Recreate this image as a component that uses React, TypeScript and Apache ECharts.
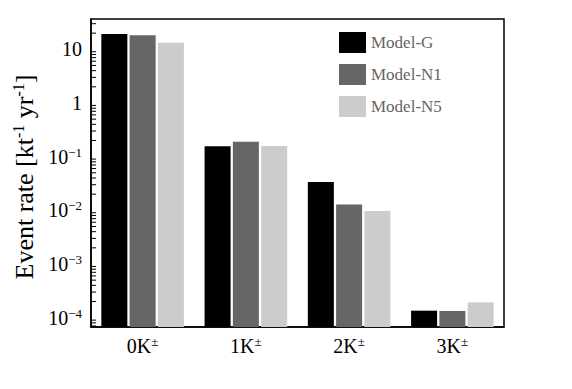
import React, { useEffect, useRef } from 'react';
import * as echarts from 'echarts';

const categories = ['0K', '1K', '2K', '3K'];
const seriesNames = ['Model-G', 'Model-N1', 'Model-N5'];
const modelG = [19.3, 0.156, 0.0337, 1.35e-4];
const modelN1 = [18.2, 0.19, 0.0128, 1.33e-4];
const modelN5 = [13.3, 0.158, 0.0097, 1.93e-4];
const seriesValues = [modelG, modelN1, modelN5];
const seriesColors = ['#000000', '#666666', '#cccccc'];
const Y_MIN = 6.7e-5;
const Y_MAX = 36.7;
const minorMultipliers = [2, 3, 4, 5, 6, 7, 8, 9];
const decades = [-5, -4, -3, -2, -1, 0, 1];

const FONT = '"Liberation Serif", "DejaVu Serif", serif';

const minorTicks: number[] = [];
decades.forEach((d) =>
  minorMultipliers.forEach((m) => {
    const v = m * Math.pow(10, d);
    if (v > Y_MIN && v < Y_MAX) minorTicks.push(v);
  })
);

export default function App() {
  const ref = useRef<HTMLDivElement>(null);
  useEffect(() => {
    document.body.style.margin = '0';
    const chart = echarts.init(ref.current!, null, { renderer: 'svg' });

    const barSeries = seriesNames.map((name, s) => ({
      name,
      type: 'custom',
      color: seriesColors[s],
      itemStyle: { color: seriesColors[s] },
      data: seriesValues[s].map((v, i) => [i, v]),
      encode: { x: 0, y: 1 },
      z: 2,
      renderItem: (params: any, api: any) => {
        const idx = api.value(0);
        const v = api.value(1);
        const top = api.coord([idx, v]);
        const base = api.coord([idx, Y_MIN]);
        const band = api.size([1, 0])[0];
        const w = band * 0.252;
        const step = band * 0.274;
        const cx = top[0] + (s - 1) * step;
        return {
          type: 'rect',
          shape: { x: cx - w / 2, y: top[1], width: w, height: base[1] - top[1] },
          style: { fill: seriesColors[s] },
        };
      },
    }));

    const rich = {
      b: { fontSize: 20, fontFamily: FONT, color: '#000', lineHeight: 22 },
      s: { fontSize: 13, fontFamily: FONT, color: '#000', lineHeight: 13, verticalAlign: 'top' },
    };

    chart.setOption({
      animation: false,
      grid: {
        left: 91,
        right: 68,
        top: 19,
        bottom: 62,
        show: true,
        borderColor: '#000',
        borderWidth: 1.5,
        backgroundColor: 'transparent',
      },
      legend: {
        data: seriesNames,
        orient: 'vertical',
        left: 334,
        top: 27,
        itemWidth: 27,
        itemHeight: 21,
        itemGap: 11,
        icon: 'rect',
        textStyle: { color: '#666', fontSize: 17, fontFamily: FONT },
      },
      xAxis: {
        type: 'category',
        data: categories,
        axisLine: { lineStyle: { color: '#000', width: 1.5 } },
        axisTick: { inside: true, length: 9, interval: 0, lineStyle: { color: '#000' } },
        axisLabel: {
          margin: 8,
          formatter: (v: string) => `{b|${v}}{s|±}`,
          rich,
        },
        splitLine: { show: false },
      },
      yAxis: {
        type: 'log',
        logBase: 10,
        min: Y_MIN,
        max: Y_MAX,
        splitNumber: 6,
        name: '{b|Event rate [kt}{s|-1}{b| yr}{s|-1}{b|]}',
        nameLocation: 'middle',
        nameGap: 53,
        nameTextStyle: {
          padding: [0, 8, 0, 0],
          rich: {
            b: { fontSize: 26, fontFamily: FONT, color: '#000', lineHeight: 28 },
            s: { fontSize: 16, fontFamily: FONT, color: '#000', lineHeight: 16, verticalAlign: 'top' },
          },
        },
        axisLine: { show: true, lineStyle: { color: '#000', width: 1.5 } },
        axisTick: { inside: true, length: 10, lineStyle: { color: '#000' } },
        splitLine: { show: false },
        axisLabel: {
          margin: 9,
          showMinLabel: false,
          showMaxLabel: false,
          formatter: (v: number) => {
            const l = Math.log10(v);
            const e = Math.round(l);
            if (Math.abs(l - e) > 1e-6) return '';
            if (e === 0) return '{b|1}';
            if (e === 1) return '{b|10}';
            return `{b|10}{s|−${-e}}`;
          },
          rich,
        },
      },
      series: [
        ...barSeries,
        {
          name: 'minorTicks',
          type: 'custom',
          silent: true,
          z: 5,
          data: minorTicks.map((v) => [0, v]),
          encode: { x: 0, y: 1 },
          renderItem: (params: any, api: any) => {
            const p = api.coord([0, api.value(1)]);
            const x0 = params.coordSys.x;
            return {
              type: 'line',
              shape: { x1: x0, y1: p[1], x2: x0 + 5, y2: p[1] },
              style: { stroke: '#000', lineWidth: 1 },
            };
          },
        },
      ],
    });
    return () => chart.dispose();
  }, []);
  return <div ref={ref} style={{ width: 572, height: 389 }} />;
}
